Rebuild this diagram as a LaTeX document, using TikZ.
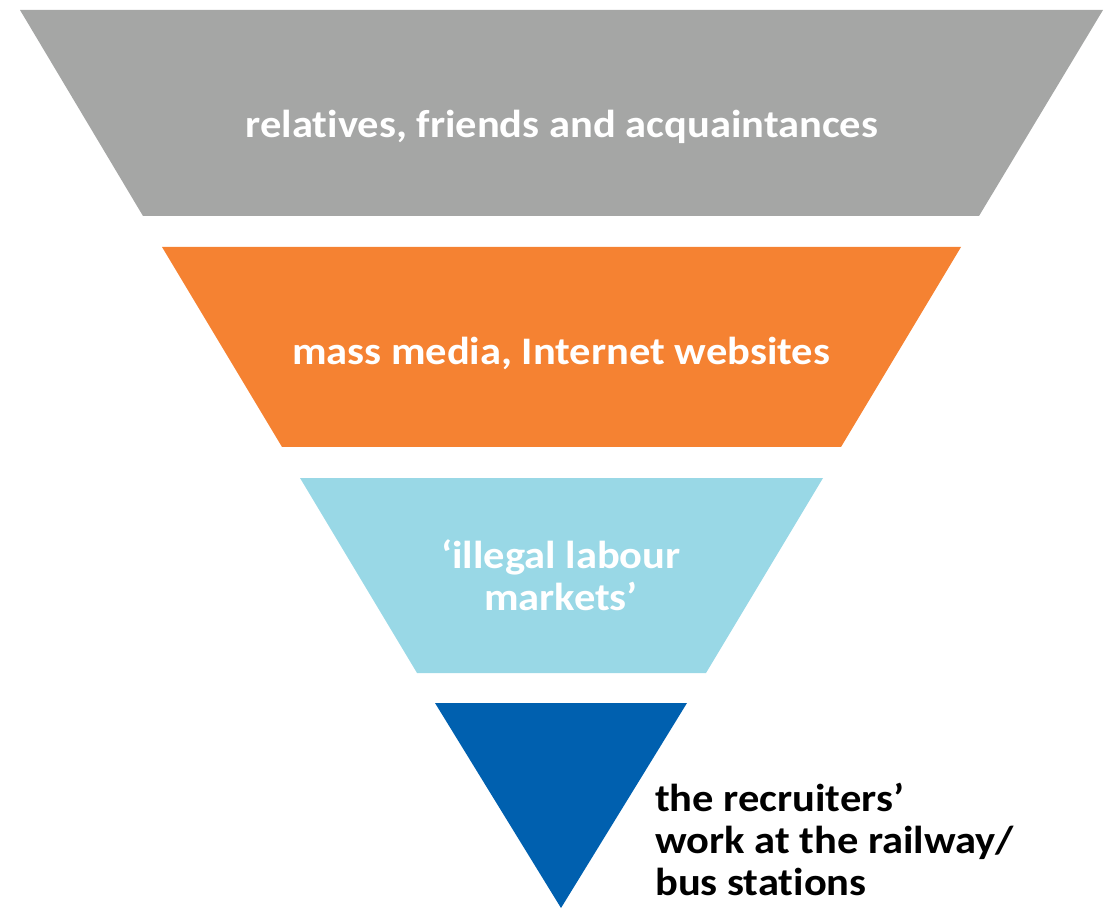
\documentclass[tikz,border=0pt]{standalone}
\usepackage{fontspec}
\setmainfont{Carlito}[FakeStretch=1.09, Ligatures=NoCommon]
\definecolor{fgray}{RGB}{165,166,165}
\definecolor{forange}{RGB}{245,130,50}
\definecolor{flblue}{RGB}{153,216,230}
\definecolor{fblue}{RGB}{0,96,175}
\tikzset{
  wlabel/.style={text=white, font=\fontsize{39}{42}\selectfont\bfseries, align=center, inner sep=0pt, anchor=base},
  blabel/.style={text=black, font=\fontsize{39}{42}\selectfont\bfseries, align=left, inner sep=0pt, anchor=base west}
}
\begin{document}
\begin{tikzpicture}[x=1pt,y=-1pt]
\useasboundingbox (0,0) rectangle (1104,909);
\fill[fgray]   (20,10) -- (1103,10) -- (979,216) -- (143,216) -- cycle;
\fill[forange] (162,247) -- (961,247) -- (841,447) -- (282,447) -- cycle;
\fill[flblue]  (300,478) -- (823,478) -- (706,673) -- (417,673) -- cycle;
\fill[fblue]   (435,703) -- (687,703) -- (561,908) -- cycle;
\node[wlabel] (t1) at (562,138) {relatives, friends and acquaintances};
\node[wlabel] (t2) at (561,365) {mass media, Internet websites};
\node[wlabel] (t3) at (561,610) {‘illegal labour\\markets’};
\node[blabel] (t4) at (655,895) {the recruiters’\\work at the railway/\\bus stations};
\end{tikzpicture}
\end{document}
